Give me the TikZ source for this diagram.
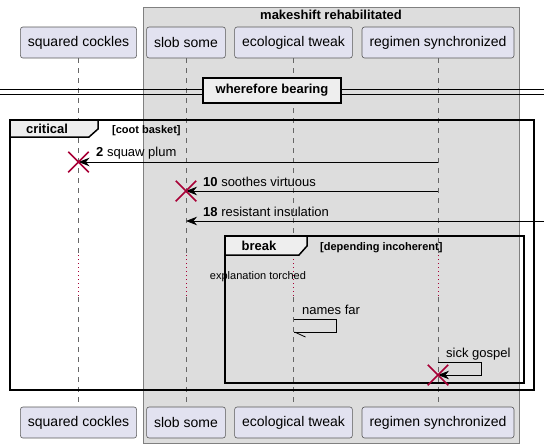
\documentclass[tikz,border=0pt]{standalone}
\usepackage{fontspec}
\setmainfont{Liberation Sans}
\usetikzlibrary{arrows.meta,shapes.misc}
\definecolor{partfill}{HTML}{E2E2F0}
\definecolor{boxfill}{HTML}{DDDDDD}
\definecolor{tabfill}{HTML}{EEEEEE}
\definecolor{killred}{HTML}{A80036}

\begin{document}
\begin{tikzpicture}[x=1pt,y=-1pt,
  part/.style={draw=black!65,line width=0.6pt,fill=partfill,rounded corners=2.5pt,
    minimum height=31pt,inner xsep=7.5pt,font=\fontsize{14}{16}\selectfont},
  lifeline/.style={black!60,line width=0.6pt,dash pattern=on 5pt off 5pt},
  delay/.style={killred,line width=0.8pt,dash pattern=on 1pt off 3pt},
  msg/.style={-{Stealth[length=11pt,width=8.5pt,inset=3.5pt]},line width=0.8pt},
  kill/.style={cross out,draw=killred,line width=1.5pt,minimum size=19pt,inner sep=0pt},
  frame/.style={line width=1.5pt},
  tab/.style={fill=tabfill,line width=1.5pt},
  lbl/.style={anchor=base west,inner sep=0pt,font=\fontsize{13}{15}\selectfont},
  small/.style={inner sep=0pt,font=\fontsize{11}{13}\selectfont}]
\useasboundingbox (0,0) rectangle (550,448);
%% box
\draw[fill=boxfill,draw=black!50,line width=0.7pt] (143,7) rectangle (519,443);
\node[font=\fontsize{13}{15}\selectfont\bfseries] (boxtitle) at (331,15) {makeshift rehabilitated};
%% participants
\node[part] (sc-top) at (78.5,42.5) {squared cockles};
\node[part] (ss-top) at (186,42.5) {slob some};
\node[part] (et-top) at (293.5,42.5) {ecological tweak};
\node[part] (rs-top) at (438,42.5) {regimen synchronized};
\node[part] (sc-bot) at (78.5,422.5) {squared cockles};
\node[part] (ss-bot) at (186,422.5) {slob some};
\node[part] (et-bot) at (293.5,422.5) {ecological tweak};
\node[part] (rs-bot) at (438,422.5) {regimen synchronized};
%% lifelines, with the delay
\coordinate (dly1) at (0,255);
\coordinate (dly2) at (0,297);
\foreach \p in {sc,ss,et,rs} {
  \draw[lifeline] (\p-top.south) -- (\p-top |- dly1);
  \draw[delay] (\p-top |- dly1) -- (\p-top |- dly2);
  \draw[lifeline] (\p-top |- dly2) -- (\p-bot.north);
}
\node[small] (torched) at (258,277) {explanation torched};
%% divider
\draw[line width=0.9pt] (0,89) -- (544,89);
\draw[line width=0.9pt] (0,94) -- (544,94);
\node[draw,fill=tabfill,line width=1.5pt,minimum width=138pt,minimum height=25pt,inner sep=0pt,
  font=\fontsize{13}{15}\selectfont\bfseries] (divider) at (272,90.5) {wherefore bearing};
%% critical
\draw[frame] (10,120) rectangle (534,390);
\draw[tab] (10,120) -- (98,120) -- (98,129) -- (89,137) -- (10,137) -- cycle;
\node[inner sep=0pt,font=\fontsize{13}{15}\selectfont\bfseries,anchor=base] (crit) at (47,133) {critical};
\node[small,anchor=base west,font=\fontsize{11}{13}\selectfont\bfseries] (critguard) at (112,133) {[coot basket]};
%% messages
\coordinate (m1) at (0,162);
\coordinate (m2) at (0,191);
\coordinate (m3) at (544,221);
\draw[msg] (rs-top |- m1) -- (sc-top |- m1);
\node[kill] (x1) at (sc-top |- m1) {};
\node[lbl] (t1) at (96,156.5) {\textbf{2} squaw plum};
\draw[msg] (rs-top |- m2) -- (ss-top |- m2);
\node[kill] (x2) at (ss-top |- m2) {};
\node[lbl] (t2) at (203,186.5) {\textbf{10} soothes virtuous};
\draw[msg] (m3) -- (ss-top |- m3);
\node[lbl] (t3) at (203,216.5) {\textbf{18} resistant insulation};
%% break
\draw[frame] (225,236) rectangle (524,383);
\draw[tab] (225,236) -- (307,236) -- (307,246) -- (299,255) -- (225,255) -- cycle;
\node[inner sep=0pt,font=\fontsize{13}{15}\selectfont\bfseries,anchor=base] (brk) at (259,250.5) {break};
\node[small,anchor=base west,font=\fontsize{11}{13}\selectfont\bfseries] (brkguard) at (320,250.5) {[depending incoherent]};
%% self messages
\coordinate (s1) at (336,319);
\coordinate (s2) at (481,362);
\draw[line width=0.8pt] (et-top |- s1) -- (s1) -- ++(0,13) -- (et-top |- 0,332);
\draw[line width=0.8pt] (et-top |- 0,332) ++(1,0) -- ++(11,5);
\node[lbl] (t4) at (302,314) {names far};
\draw[msg] (rs-top |- s2) -- (s2) -- ++(0,13) -- (rs-top |- 0,375);
\node[kill] (x3) at (rs-top |- 0,375) {};
\node[lbl] (t5) at (446,357) {sick gospel};
\end{tikzpicture}
\end{document}
